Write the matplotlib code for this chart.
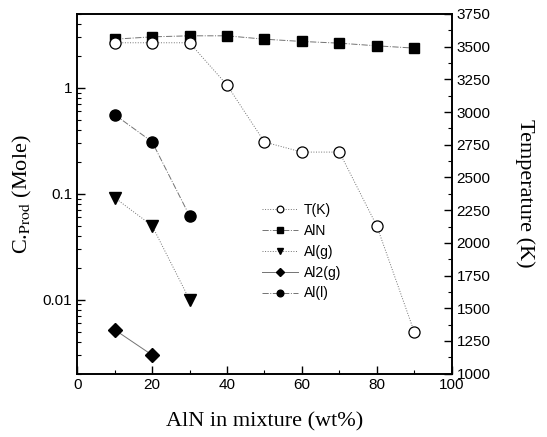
import numpy as np
import matplotlib
matplotlib.use("Agg")
import matplotlib.pyplot as plt
from matplotlib.ticker import MultipleLocator, LogLocator, NullFormatter, FixedLocator

# data
wt = [10, 20, 30, 40, 50, 60, 70, 80, 90]
temp_K = [3530, 3530, 3530, 3207, 2771, 2694, 2694, 2128, 1317]
aln = [2.89, 3.04, 3.11, 3.11, 2.89, 2.75, 2.65, 2.5, 2.38]

wt_alg = [10, 20, 30]
al_g = [0.092, 0.05, 0.01]

wt_al2g = [10, 20]
al2_g = [0.0052, 0.0030]

wt_all = [10, 20, 30]
al_l = [0.56, 0.31, 0.062]

serif = ["Liberation Serif", "DejaVu Serif"]
sans = ["Liberation Sans", "DejaVu Sans"]
plt.rcParams["font.family"] = sans
plt.rcParams["mathtext.fontset"] = "stix"

fig = plt.figure(figsize=(5.47, 4.37), dpi=100)
ax = fig.add_axes([0.141, 0.145, 0.685, 0.823])
ax2 = ax.twinx()

lc = "0.45"
lw = 0.7
h_aln, = ax.plot(wt, aln, ls="-.", color=lc, lw=lw, marker="s", ms=7,
                 mfc="black", mec="black", label="AlN")
h_alg, = ax.plot(wt_alg, al_g, ls=":", color=lc, lw=lw, marker="v", ms=8,
                 mfc="black", mec="black", label="Al(g)")
h_al2g, = ax.plot(wt_al2g, al2_g, ls="-", color=lc, lw=lw, marker="D", ms=7,
                  mfc="black", mec="black", label="Al2(g)")
h_all, = ax.plot(wt_all, al_l, ls="-.", color=lc, lw=lw, marker="o", ms=8,
                 mfc="black", mec="black", label="Al(l)")
h_t, = ax2.plot(wt, temp_K, ls=":", color=lc, lw=lw, marker="o", ms=8,
                mfc="white", mec="black", mew=0.9, label="T(K)")

ax.set_yscale("log")
ax.set_ylim(0.002, 5)
ax.set_xlim(0, 100)
ax.xaxis.set_major_locator(MultipleLocator(20))
ax.xaxis.set_minor_locator(MultipleLocator(10))
ax.yaxis.set_major_locator(FixedLocator([0.01, 0.1, 1]))
ax.yaxis.set_minor_locator(LogLocator(base=10, subs=np.arange(2, 10)))
ax.yaxis.set_minor_formatter(NullFormatter())
ax.set_yticklabels(["0.01", "0.1", "1"])

ax2.set_ylim(1000, 3750)
ax2.yaxis.set_major_locator(MultipleLocator(250))
ax2.yaxis.set_minor_locator(MultipleLocator(125))

for a in (ax, ax2):
    a.tick_params(which="both", direction="in", top=False, labelsize=11)
    a.tick_params(which="major", length=6, width=1)
    a.tick_params(which="minor", length=3, width=0.8)
    for s in a.spines.values():
        s.set_linewidth(1.2)

ax.set_xlabel("AlN in mixture (wt%)", family=serif, fontsize=16, labelpad=14)
ax.set_ylabel(r"C.$_{\rm Prod}$ (Mole)", family=serif, fontsize=16, labelpad=6)
ax2.set_ylabel("Temperature (K)", family=serif, fontsize=16, rotation=270, labelpad=32)

ax.legend(handles=[h_t, h_aln, h_alg, h_al2g, h_all], loc="upper left",
          bbox_to_anchor=(0.46, 0.51), frameon=False, fontsize=10,
          handlelength=2.6, labelspacing=0.5, handletextpad=0.4, markerscale=0.6)

fig.savefig("out.png", dpi=100)
